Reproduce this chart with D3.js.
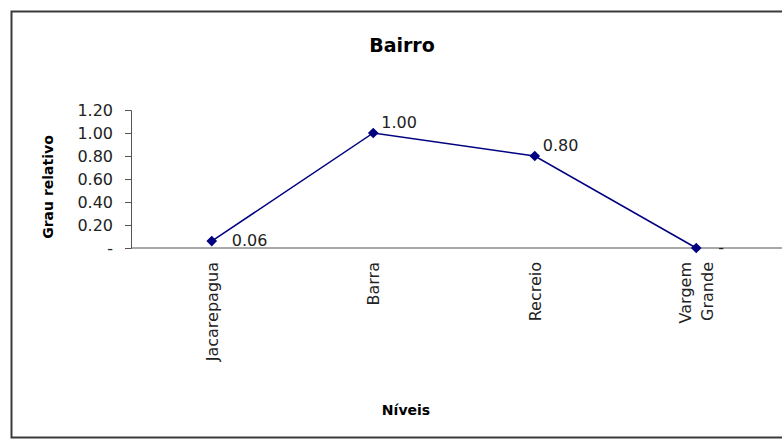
<!DOCTYPE html>
<html>
<head>
<meta charset="utf-8">
<script src="https://cdn.jsdelivr.net/npm/d3@7"></script>
<style>
	body { margin: 0; background: white; }
	text { font-family: "Century Gothic", "DejaVu Sans", sans-serif; }
</style>
</head>
<body>
<div class="chart"></div>
<script>
// chart data
const bairros = ["Jacarepagua", "Barra", "Recreio", "Vargem Grande"]
const grau = [0.06, 1.00, 0.80, 0]
const valueLabels = ["0.06", "1.00", "0.80", "-"]
const yTicks = [0, 0.2, 0.4, 0.6, 0.8, 1.0, 1.2]

function plot_chart() {
	let width = 782
	let height = 439
	let left = 131, right = 777, top = 110, bottom = 248

	var svg = d3.select(".chart")
		.append("svg")
		.attr("width", width)
		.attr("height", height)

	// outer frame (runs off the right and bottom edges)
	svg.append("rect")
		.attr("x", 11.5)
		.attr("y", 11.5)
		.attr("width", width)
		.attr("height", 426)
		.attr("fill", "none")
		.attr("stroke", "#3a3a3a")
		.attr("stroke-width", 2)

	let x = d3.scaleBand().domain(bairros).range([left, right])
	let y = d3.scaleLinear().domain([0, 1.2]).range([bottom, top])
	const cx = d => x(d) + x.bandwidth() / 2

	// y axis
	let yAxis = svg.append("g")
		.attr("transform", `translate(${left},0)`)
		.call(d3.axisLeft(y).tickValues(yTicks).tickSize(6).tickPadding(12)
			.tickFormat(d => d == 0 ? "-" : d3.format(".2f")(d)))
	yAxis.select(".domain").attr("stroke", "#555")
	yAxis.selectAll(".tick line").attr("stroke", "#555")
	yAxis.selectAll("text").style("font-size", "16px").attr("fill", "#222")

	// x axis line
	svg.append("line")
		.attr("x1", left).attr("x2", width)
		.attr("y1", y(0)).attr("y2", y(0))
		.attr("stroke", "#555")
		.attr("stroke-width", 1)

	// category labels, rotated
	svg.selectAll("g.cat")
		.data(bairros)
		.join("g")
		.attr("class", "cat")
		.attr("transform", d => `translate(${cx(d)},${bottom + 14}) rotate(-90)`)
		.each(function (d) {
			let words = d.split(" ")
			let g = d3.select(this)
			words.forEach(function (w, i) {
				g.append("text")
					.attr("text-anchor", "end")
					.attr("x", 0)
					.attr("y", (i - (words.length - 1) / 2) * 22 + 6)
					.style("font-size", "16px")
					.attr("fill", "#222")
					.text(w)
			})
		})

	// line
	let line = d3.line()
		.x((d, i) => cx(bairros[i]))
		.y(d => y(d))
	svg.append("path")
		.datum(grau)
		.attr("d", line)
		.attr("fill", "none")
		.attr("stroke", "#000080")
		.attr("stroke-width", 1.5)

	// diamond markers
	svg.selectAll("path.marker")
		.data(grau)
		.join("path")
		.attr("class", "marker")
		.attr("d", d3.symbol().type(d3.symbolDiamond2).size(72))
		.attr("transform", (d, i) => `translate(${cx(bairros[i])},${y(d)})`)
		.attr("fill", "#000080")

	// data labels
	svg.selectAll("text.vlabel")
		.data(grau)
		.join("text")
		.attr("class", "vlabel")
		.attr("x", (d, i) => cx(bairros[i]) + (i == 0 ? 20 : (i == 3 ? 22 : 8)))
		.attr("y", (d, i) => y(d) + (i == 0 || i == 3 ? 5 : -5))
		.style("font-size", "16px")
		.attr("fill", "#222")
		.text((d, i) => valueLabels[i])

	// titles
	svg.append("text")
		.attr("x", 402).attr("y", 52)
		.attr("text-anchor", "middle")
		.style("font-size", "19px")
		.style("font-weight", "bold")
		.text("Bairro")

	svg.append("text")
		.attr("transform", `translate(53,${(top + bottom) / 2 + 8}) rotate(-90)`)
		.attr("text-anchor", "middle")
		.style("font-size", "14px")
		.style("font-weight", "bold")
		.text("Grau relativo")

	svg.append("text")
		.attr("x", 406).attr("y", 415)
		.attr("text-anchor", "middle")
		.style("font-size", "14px")
		.style("font-weight", "bold")
		.text("Níveis")
}

plot_chart()
</script>
</body>
</html>
